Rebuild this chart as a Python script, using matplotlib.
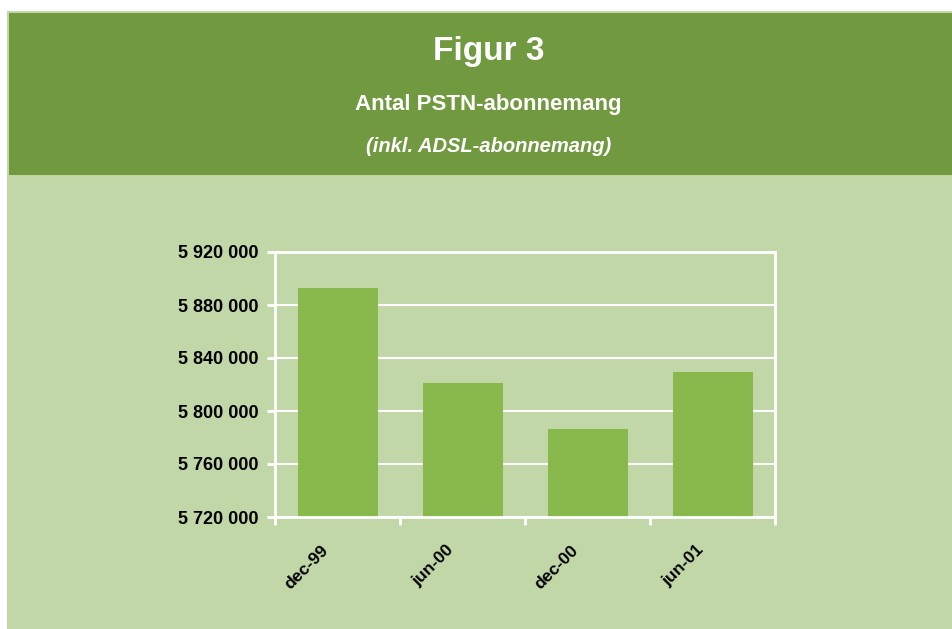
import matplotlib
matplotlib.use("Agg")
import matplotlib.pyplot as plt
from matplotlib.patches import Rectangle
from matplotlib.ticker import FuncFormatter
from matplotlib.transforms import ScaledTranslation
import numpy as np

categories = ["dec-99", "jun-00", "dec-00", "jun-01"]
values = [5892500, 5821500, 5786500, 5829500]
yticks = [5720000, 5760000, 5800000, 5840000, 5880000, 5920000]

title = "Figur 3"
subtitle = "Antal PSTN-abonnemang"
subsubtitle = "(inkl. ADSL-abonnemang)"

DARK = "#71993F"
LIGHT = "#C2D7A8"
BAR = "#89B84D"
FONT = ["Liberation Sans", "DejaVu Sans"]

W, H = 952, 629
fig = plt.figure(figsize=(W / 100, H / 100), dpi=100)
fig.patch.set_facecolor("white")

# light panel
fig.add_artist(Rectangle((7 / W, 1 - 629 / H), 945 / W, (629 - 11) / H,
                         transform=fig.transFigure, facecolor=LIGHT, edgecolor="none", zorder=0))
# dark header
fig.add_artist(Rectangle((9 / W, 1 - 175 / H), 943 / W, (175 - 13) / H,
                         transform=fig.transFigure, facecolor=DARK, edgecolor="none", zorder=0))

fig.text(489 / W, 1 - 60 / H, title, ha="center", va="baseline", color="white",
         fontsize=24, fontweight="bold", family=FONT)
fig.text(488 / W, 1 - 110 / H, subtitle, ha="center", va="baseline", color="white",
         fontsize=16, fontweight="bold", family=FONT)
fig.text(489 / W, 1 - 152 / H, subsubtitle, ha="center", va="baseline", color="white",
         fontsize=14.5, fontweight="bold", fontstyle="italic", family=FONT)

ax = fig.add_axes([275 / W, 1 - 517 / H, 500 / W, 265 / H])
ax.set_facecolor(LIGHT)
x = np.arange(len(categories))
ax.bar(x, values, width=0.64, color=BAR, zorder=3)
ax.set_xlim(-0.5, len(categories) - 0.5)
ax.set_ylim(yticks[0], yticks[-1])
ax.set_yticks(yticks)
ax.yaxis.set_major_formatter(FuncFormatter(lambda v, p: f"{int(v):,}".replace(",", " ")))
ax.grid(axis="y", color="white", linewidth=1.5, zorder=1)
ax.set_axisbelow(True)

ax.set_xticks(np.arange(len(categories) + 1) - 0.5)
ax.set_xticklabels([])
ax.tick_params(axis="x", which="major", length=6, width=2, color="white")
ax.tick_params(axis="y", length=6, width=2, color="white", pad=6)
for lbl in ax.get_yticklabels():
    lbl.set_fontsize(13)
    lbl.set_fontweight("bold")
    lbl.set_family(FONT)

# category labels, rotated, anchored at their top-right end
lab_tr = ax.get_xaxis_transform() + ScaledTranslation(-0.17, -0.255, fig.dpi_scale_trans)
for xi, cat in zip(x, categories):
    ax.text(xi, 0, cat, transform=lab_tr, rotation=45, ha="right", va="top",
            rotation_mode="anchor", fontsize=12.5, fontweight="bold", family=FONT,
            clip_on=False)

for s in ax.spines.values():
    s.set_color("white")
    s.set_linewidth(2)
    s.set_zorder(4)

fig.savefig("out.png", dpi=100, facecolor=fig.get_facecolor())
